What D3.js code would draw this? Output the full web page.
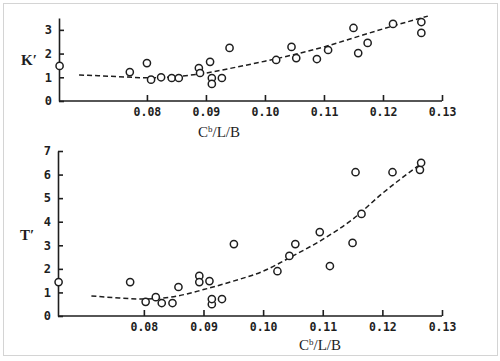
<!DOCTYPE html>
<html>
<head>
<meta charset="utf-8">
<script src="https://cdn.jsdelivr.net/npm/d3@7"></script>
<style>
  body { margin: 0; background: #fff; }
  svg { display: block; }
</style>
</head>
<body>
<div id="chart"></div>
<script>
// K' scatter (upper panel)
const kX = [0.0652, 0.0771, 0.0800, 0.0807, 0.0824, 0.0842, 0.0854, 0.0888, 0.0890, 0.0907, 0.0910, 0.0910, 0.0927, 0.0940,
            0.1019, 0.1045, 0.1053, 0.1088, 0.1107, 0.1150, 0.1158, 0.1174, 0.1217, 0.1265, 0.1265];
const kY = [1.48, 1.22, 1.60, 0.90, 1.00, 0.97, 0.97, 1.39, 1.18, 1.65, 0.97, 0.72, 0.97, 2.24,
            1.73, 2.28, 1.81, 1.77, 2.15, 3.08, 2.02, 2.45, 3.25, 3.33, 2.87];
// K' fitted dashed curve
const kFitX = [0.0685, 0.075, 0.080, 0.085, 0.090, 0.095, 0.100, 0.105, 0.110, 0.115, 0.120, 0.1276];
const kFitY = [1.10, 1.03, 0.98, 1.03, 1.18, 1.42, 1.68, 1.96, 2.28, 2.66, 3.04, 3.58];

// T' scatter (lower panel)
const tX = [0.0657, 0.0777, 0.0803, 0.0820, 0.0830, 0.0848, 0.0858, 0.0893, 0.0893, 0.0910, 0.0914, 0.0914, 0.0931, 0.0951,
            0.1024, 0.1044, 0.1054, 0.1095, 0.1112, 0.1150, 0.1155, 0.1165, 0.1217, 0.1263, 0.1265];
const tY = [1.44, 1.44, 0.60, 0.80, 0.55, 0.55, 1.23, 1.70, 1.44, 1.48, 0.50, 0.72, 0.72, 3.05,
            1.90, 2.55, 3.05, 3.56, 2.12, 3.10, 6.10, 4.33, 6.10, 6.20, 6.50];
// T' fitted dashed curve
const tFitX = [0.0712, 0.075, 0.080, 0.085, 0.090, 0.095, 0.100, 0.105, 0.110, 0.115, 0.120, 0.1267];
const tFitY = [0.85, 0.78, 0.72, 0.82, 1.12, 1.48, 1.90, 2.55, 3.25, 4.10, 5.20, 6.50];

const xTicks = [0.08, 0.09, 0.10, 0.11, 0.12, 0.13];

const width = 500, height = 361;
const ink = "#1e1e1e";

const svg = d3.select("#chart").append("svg")
    .attr("width", width)
    .attr("height", height)
    .attr("viewBox", [0, 0, width, height]);

// thin frame around the picture
svg.append("rect")
    .attr("x", 3.5).attr("y", 3.5)
    .attr("width", 494).attr("height", 352)
    .attr("fill", "none")
    .attr("stroke", "#d4d4d4")
    .attr("stroke-width", 1);

function panel(opts) {
  const x = d3.scaleLinear().domain(opts.xDomain).range([opts.left, 442]);
  const y = d3.scaleLinear().domain(opts.yDomain).range([opts.bottom, opts.top]);
  const g = svg.append("g");

  // x axis, ticks pointing up
  g.append("g")
      .attr("transform", `translate(0,${opts.bottom})`)
      .call(d3.axisBottom(x).tickValues(xTicks).tickFormat(d3.format(".2f"))
          .tickSizeInner(-6).tickSizeOuter(0).tickPadding(4))
      .call(a => a.select(".domain").attr("d", `M${opts.left},0H442`))
      .call(a => a.selectAll("line,path").attr("stroke", ink).attr("stroke-width", 1.6))
      .call(a => a.selectAll("text")
          .attr("fill", ink)
          .attr("dy", "0.9em")
          .attr("y", 5)
          .style("font", "bold 11.5px 'DejaVu Sans Mono', monospace"));

  // y axis, ticks pointing right
  g.append("g")
      .attr("transform", `translate(${opts.left},0)`)
      .call(d3.axisLeft(y).tickValues(opts.yTicks).tickFormat(d3.format("d"))
          .tickSizeInner(-5).tickSizeOuter(0).tickPadding(6))
      .call(a => a.selectAll("line,path").attr("stroke", ink).attr("stroke-width", 1.6))
      .call(a => a.selectAll("text")
          .attr("fill", ink)
          .attr("x", -7)
          .style("font", "bold 12px 'DejaVu Sans Mono', monospace"));

  // fitted dashed curve
  const fit = opts.fitX.map((v, i) => [x(v), y(opts.fitY[i])]);
  g.append("path")
      .attr("d", d3.line().curve(d3.curveMonotoneX)(fit))
      .attr("fill", "none")
      .attr("stroke", ink)
      .attr("stroke-width", 1.5)
      .attr("stroke-dasharray", "5,3");

  // scatter points
  g.append("g")
      .selectAll("circle")
      .data(opts.px.map((v, i) => [v, opts.py[i]]))
      .join("circle")
      .attr("cx", d => x(d[0]))
      .attr("cy", d => y(d[1]))
      .attr("r", 3.6)
      .attr("fill", "#fff")
      .attr("stroke", ink)
      .attr("stroke-width", 1.5);

  // y label
  g.append("text")
      .attr("x", opts.yLabelX).attr("y", opts.yLabelY)
      .attr("text-anchor", "middle")
      .attr("dominant-baseline", "middle")
      .attr("fill", ink)
      .style("font", "bold 15px 'Liberation Serif', serif")
      .text(opts.yLabel);

  // x label
  const xl = g.append("text")
      .attr("x", opts.xLabelX).attr("y", opts.xLabelY)
      .attr("text-anchor", "middle")
      .attr("fill", ink)
      .style("font", "15px 'Liberation Serif', serif");
  xl.append("tspan").text("C");
  xl.append("tspan").attr("dy", -5).style("font-size", "9px").text("b");
  xl.append("tspan").attr("dy", 5).text("/L/B");
}

panel({
  xDomain: [0.0651, 0.13], yDomain: [0, 3.5], yTicks: [0, 1, 2, 3],
  left: 59, top: 18, bottom: 101,
  px: kX, py: kY, fitX: kFitX, fitY: kFitY,
  yLabel: "K\u2032", yLabelX: 29, yLabelY: 62,
  xLabelX: 219, xLabelY: 137
});

panel({
  xDomain: [0.0656, 0.13], yDomain: [0, 7], yTicks: [0, 1, 2, 3, 4, 5, 6, 7],
  left: 58, top: 151, bottom: 316,
  px: tX, py: tY, fitX: tFitX, fitY: tFitY,
  yLabel: "T\u2032", yLabelX: 27, yLabelY: 237,
  xLabelX: 320, xLabelY: 350
});
</script>
</body>
</html>
